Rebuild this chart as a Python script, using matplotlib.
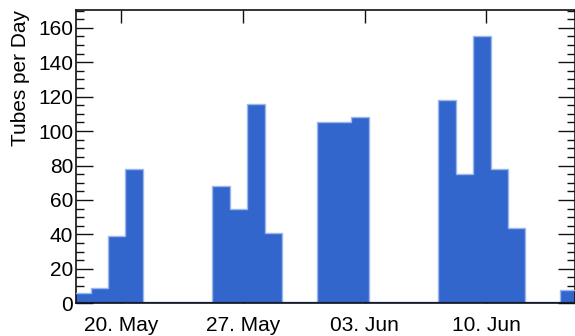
import matplotlib
matplotlib.use("Agg")
import matplotlib.pyplot as plt
import matplotlib.dates as mdates
from matplotlib.ticker import MultipleLocator
import numpy as np
import datetime as dt

# Daily tube counts; each bin runs from 06:00 on the listed day for 24 h
bin_days = ["2014-05-17", "2014-05-18", "2014-05-19", "2014-05-20", "2014-05-21",
            "2014-05-22", "2014-05-23", "2014-05-24", "2014-05-25", "2014-05-26",
            "2014-05-27", "2014-05-28", "2014-05-29", "2014-05-30", "2014-05-31",
            "2014-06-01", "2014-06-02", "2014-06-03", "2014-06-04", "2014-06-05",
            "2014-06-06", "2014-06-07", "2014-06-08", "2014-06-09", "2014-06-10",
            "2014-06-11", "2014-06-12", "2014-06-13", "2014-06-14"]
tubes = [6, 9, 39, 78, 0,
         0, 0, 0, 68, 55,
         116, 41, 0, 0, 105,
         105, 108, 0, 0, 0,
         0, 118, 75, 155, 78,
         44, 0, 0, 8]
tick_days = ["2014-05-20", "2014-05-27", "2014-06-03", "2014-06-10"]
tick_labels = ["20. May", "27. May", "03. Jun", "10. Jun"]

plt.rcParams["font.family"] = ["Liberation Sans", "DejaVu Sans"]

fig = plt.figure(figsize=(5.75, 3.36), dpi=100)
ax = fig.add_axes([76 / 575, 1 - 303.3 / 336, 1 - 76 / 575, (303.3 - 10) / 336])

starts = np.array([mdates.date2num(dt.datetime.fromisoformat(d) + dt.timedelta(hours=6))
                   for d in bin_days])
edges = np.append(starts, starts[-1] + 1)
counts = np.array(tubes, dtype=float)

ax.stairs(counts, edges, fill=True, color="#3366cc", zorder=2)
ax.stairs(counts, edges, fill=False, color="#9db7ee", linewidth=1.0, zorder=3,
          baseline=None)
ax.axhline(0, color="#111a3a", linewidth=1.6, zorder=4)

x0 = mdates.date2num(dt.datetime(2014, 5, 20))
ax.set_xlim(x0 - 2.588, x0 + 26.1)
ax.set_ylim(0, 170.3)

ticks = [mdates.date2num(dt.datetime.fromisoformat(d)) for d in tick_days]
ax.set_xticks(ticks)
ax.set_xticklabels(tick_labels)
ax.yaxis.set_major_locator(MultipleLocator(20))
ax.yaxis.set_minor_locator(MultipleLocator(5))

ax.tick_params(axis="x", which="major", direction="in", top=True, bottom=True,
               length=9, width=1.0, labelsize=15, pad=9, color="#111111")
ax.tick_params(axis="x", which="minor", bottom=False, top=False)
ax.tick_params(axis="y", which="major", direction="in", left=True, right=True,
               length=12, width=1.0, labelsize=15, pad=2, color="#111111")
ax.tick_params(axis="y", which="minor", direction="in", left=True, right=True,
               length=6, width=1.0, color="#111111")

for s in ax.spines.values():
    s.set_linewidth(1.2)
    s.set_color("#111111")

ax.set_ylabel("Tubes per Day", fontsize=15, loc="top", labelpad=6)

fig.savefig("out.png", dpi=100)
